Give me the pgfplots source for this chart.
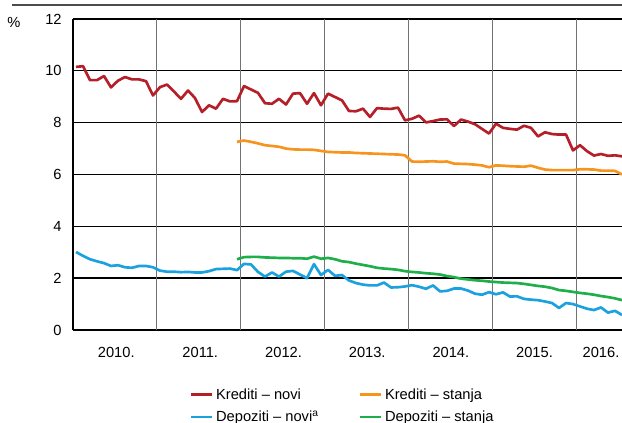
\documentclass[border=0pt]{standalone}
\usepackage{fontspec}
\setmainfont{Liberation Sans}
\usepackage{pgfplots}
\pgfplotsset{compat=1.18}
\definecolor{kred}{HTML}{B51F29}
\definecolor{korange}{HTML}{F7941D}
\definecolor{kblue}{HTML}{1AA1DE}
\definecolor{kgreen}{HTML}{1EAE4A}
\newcommand{\lblfont}{\fontsize{11pt}{13pt}\selectfont}

% month index: 0 = Jan 2010
\pgfplotstableread{
m v
0 10.15
1 10.18
2 9.64
3 9.64
4 9.80
5 9.36
6 9.62
7 9.76
8 9.67
9 9.67
10 9.60
11 9.05
12 9.37
13 9.47
14 9.20
15 8.92
16 9.24
17 8.95
18 8.41
19 8.67
20 8.54
21 8.92
22 8.82
23 8.83
24 9.41
25 9.28
26 9.15
27 8.75
28 8.73
29 8.92
30 8.70
31 9.12
32 9.14
33 8.73
34 9.14
35 8.67
36 9.12
37 8.99
38 8.86
39 8.45
40 8.44
41 8.54
42 8.22
43 8.56
44 8.54
45 8.53
46 8.58
47 8.09
48 8.15
49 8.27
50 8.01
51 8.06
52 8.12
53 8.13
54 7.87
55 8.12
56 8.04
57 7.94
58 7.76
59 7.58
60 7.96
61 7.80
62 7.76
63 7.73
64 7.88
65 7.80
66 7.47
67 7.63
68 7.56
69 7.54
70 7.54
71 6.93
72 7.13
73 6.90
74 6.73
75 6.79
76 6.72
77 6.74
78 6.70
}\kreditinovi

\pgfplotstableread{
m v
23 7.26
24 7.31
25 7.26
26 7.20
27 7.13
28 7.10
29 7.07
30 7.00
31 6.97
32 6.96
33 6.96
34 6.95
35 6.91
36 6.87
37 6.86
38 6.85
39 6.85
40 6.83
41 6.82
42 6.81
43 6.80
44 6.79
45 6.78
46 6.77
47 6.74
48 6.50
49 6.49
50 6.50
51 6.51
52 6.49
53 6.50
54 6.42
55 6.41
56 6.40
57 6.38
58 6.35
59 6.28
60 6.35
61 6.34
62 6.32
63 6.31
64 6.30
65 6.34
66 6.26
67 6.19
68 6.17
69 6.17
70 6.17
71 6.17
72 6.20
73 6.20
74 6.19
75 6.15
76 6.15
77 6.14
78 6.00
}\kreditistanja

\pgfplotstableread{
m v
0 3.01
1 2.86
2 2.73
3 2.65
4 2.58
5 2.47
6 2.50
7 2.42
8 2.40
9 2.47
10 2.47
11 2.42
12 2.29
13 2.25
14 2.25
15 2.23
16 2.24
17 2.22
18 2.22
19 2.27
20 2.35
21 2.36
22 2.37
23 2.31
24 2.55
25 2.53
26 2.24
27 2.06
28 2.22
29 2.06
30 2.25
31 2.28
32 2.14
33 2.00
34 2.54
35 2.12
36 2.32
37 2.09
38 2.12
39 1.91
40 1.81
41 1.75
42 1.72
43 1.72
44 1.83
45 1.64
46 1.65
47 1.68
48 1.73
49 1.67
50 1.59
51 1.72
52 1.49
53 1.51
54 1.60
55 1.60
56 1.52
57 1.40
58 1.36
59 1.46
60 1.38
61 1.45
62 1.29
63 1.30
64 1.20
65 1.17
66 1.15
67 1.10
68 1.04
69 0.85
70 1.04
71 1.00
72 0.91
73 0.82
74 0.77
75 0.87
76 0.67
77 0.74
78 0.58
}\depozitinovi

\pgfplotstableread{
m v
23 2.73
24 2.81
25 2.82
26 2.82
27 2.80
28 2.79
29 2.78
30 2.78
31 2.77
32 2.77
33 2.75
34 2.83
35 2.75
36 2.78
37 2.73
38 2.65
39 2.62
40 2.56
41 2.51
42 2.46
43 2.40
44 2.37
45 2.35
46 2.32
47 2.27
48 2.24
49 2.22
50 2.19
51 2.17
52 2.14
53 2.08
54 2.04
55 1.98
56 1.95
57 1.92
58 1.90
59 1.87
60 1.85
61 1.83
62 1.82
63 1.81
64 1.78
65 1.74
66 1.70
67 1.67
68 1.62
69 1.54
70 1.51
71 1.47
72 1.43
73 1.40
74 1.36
75 1.31
76 1.27
77 1.22
78 1.15
}\depozitistanja

\begin{document}
\begin{tikzpicture}
\useasboundingbox (-54.75pt,-69.75pt) rectangle (411.75pt,247.5pt);
\draw[black!70, line width=1pt] (-45.75pt,243.75pt) -- (411.75pt,243.75pt);
\begin{axis}[
    at={(0pt,0pt)}, anchor=south west,
    scale only axis,
    width=411.75pt, height=233.25pt,
    xmin=-0.43, xmax=78,
    ymin=0, ymax=12,
    axis x line*=bottom, axis y line*=left,
    axis line style={line width=1.5pt, -},
    ytick={0,2,...,12},
    ymajorgrids,
    major grid style={black, line width=1pt},
    xtick={5.75,17.75,29.65,41.6,53.55,65.5,75},
    xticklabels={2010.,2011.,2012.,2013.,2014.,2015.,2016.},
    major tick length=0pt,
    extra x ticks={11.5,23.5,35.5,47.5,59.5,71.5},
    extra x tick labels={},
    extra x tick style={grid=major, major grid style={black!55, line width=0.9pt}},
    tick label style={font=\lblfont},
    /pgf/number format/assume math mode=true,
    xticklabel style={yshift=-9.5pt},
    yticklabel style={xshift=-5pt},
    legend columns=2,
    legend cell align=left,
    legend image code/.code={\draw[#1] (0pt,0pt) -- (15.75pt,0pt);},
    legend style={draw=none, fill=none, font=\lblfont,
        at={(0.205,-0.17)}, anchor=north west,
        /tikz/column 2/.style={column sep=28pt},
        /tikz/row sep=3.2pt},
    every axis plot/.append style={line width=2pt, line join=round},
]
\addplot[kred] table[x=m, y=v] {\kreditinovi};
\addlegendentry{Krediti – novi}
\addplot[korange] table[x=m, y=v] {\kreditistanja};
\addlegendentry{Krediti – stanja}
\addplot[kblue] table[x=m, y=v] {\depozitinovi};
\addlegendentry{Depoziti – novi\textsuperscript{a}}
\addplot[kgreen] table[x=m, y=v] {\depozitistanja};
\addlegendentry{Depoziti – stanja}
\end{axis}
\node[font=\lblfont] at (-44.25pt,230.5pt) {\%};
\end{tikzpicture}
\end{document}
